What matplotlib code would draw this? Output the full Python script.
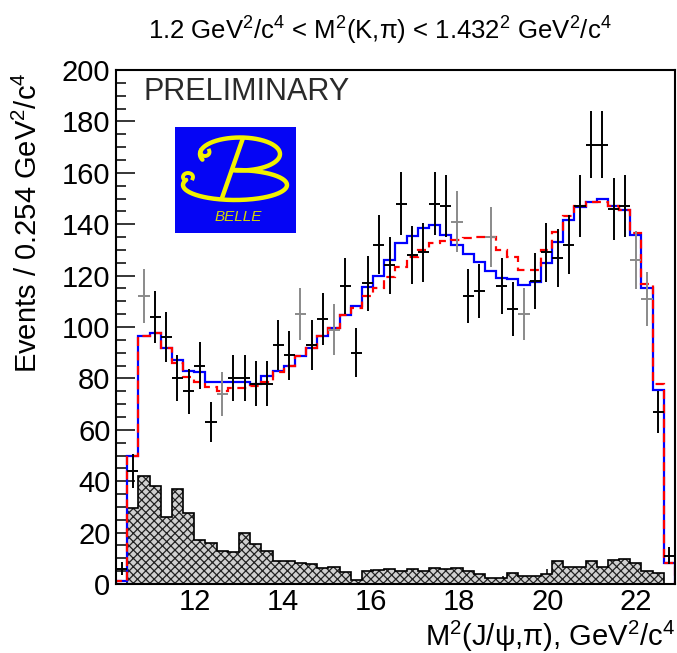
import numpy as np
import matplotlib
matplotlib.use('Agg')
import matplotlib.pyplot as plt
from matplotlib.ticker import MultipleLocator

plt.rcParams['font.family'] = ['Liberation Sans', 'DejaVu Sans']
plt.rcParams['mathtext.fontset'] = 'custom'
plt.rcParams['mathtext.rm'] = 'Liberation Sans'
plt.rcParams['mathtext.it'] = 'Liberation Sans:italic'
plt.rcParams['hatch.linewidth'] = 0.9

# binning: 50 bins of 0.254 GeV^2/c^4
x_lo = 10.2
bin_w = 0.254
n_bins = 50

# data (events per bin)
data = [6, 44, 112, 104, 96, 80, 75, 85, 63, 74,
        80, 80, 78, 78, 93, 89, 105, 93, 103, 99,
        116, 90, 117, 132, 124, 148, 128, 129, 148, 147,
        141, 112, 114, 135, 116, 107, 105, 118, 129, 127,
        132, 147, 171, 171, 146, 147, 126, 111, 67, 11]
# points drawn lighter in the original
gray_pts = [2, 9, 16, 19, 30, 33, 36, 46, 47]

# fit, solid blue
fit_blue = [1, 50, 96.5, 97.5, 92, 87, 83, 82.5, 78.7, 78.7,
            78.7, 78.7, 78, 81, 83, 85, 88.8, 92, 96.5, 99.5,
            104.7, 108, 115.7, 120, 126, 132.6, 135.4, 138.7, 139.7, 135.8,
            131.9, 128.4, 125.2, 121.9, 119, 118.8, 116.3, 117.6, 124.8, 133.2,
            141.6, 146.6, 148.8, 149.7, 147, 145.5, 135.8, 115, 75.5, 8]
# fit, dashed red
fit_red = [1, 50, 96.5, 97.5, 92, 86, 80.6, 78.7, 76.8, 75.2,
           76.1, 76.1, 77, 78.7, 82.5, 85, 88.8, 92, 96.5, 99.5,
           104.5, 107.5, 112, 115.3, 119.6, 123.5, 127.4, 130, 132.8, 133.6,
           134, 134.6, 135, 135.2, 130, 127.4, 122, 122, 130, 137,
           143, 147, 148.8, 148.8, 147, 145.5, 136.4, 116.6, 78, 8]
# background (hatched)
bkg = [0, 29.6, 42, 38, 26, 37, 27.6, 17, 16, 13,
       12.5, 20, 15.6, 13, 9, 9, 8, 7.8, 6.2, 6.6,
       4.7, 1.5, 5, 5.5, 5.8, 5, 5.8, 5, 6.4, 5.8,
       6.4, 5, 3.9, 2.5, 2.3, 4.3, 3.3, 3.3, 3.9, 9,
       6.7, 6.7, 9, 6.7, 9.3, 9.8, 8, 5, 4.3, 0]

edges = x_lo + bin_w*np.arange(n_bins+1)
centers = 0.5*(edges[:-1]+edges[1:])
data = np.array(data, dtype=float)

fig = plt.figure(figsize=(6.77, 6.53), dpi=100)
ax = fig.add_axes([116/677, 1-584/653, 559/677, 514/653])
ax.set_axisbelow(True)

ax.stairs(bkg, edges, fill=True, facecolor='#d0d0d0', edgecolor='#222222',
          hatch='xxxx', linewidth=0, zorder=1)
ax.stairs(bkg, edges, color='black', linewidth=1.2, baseline=None, zorder=1.5)

ax.stairs(fit_blue, edges, color='#0000ff', linewidth=1.6, baseline=0, zorder=2)
ax.stairs(fit_red, edges, color='#ff0000', linewidth=1.6, baseline=0,
          linestyle=(0, (4, 2.5)), zorder=2.1)

blk = [i for i in range(n_bins) if i not in gray_pts]
ax.errorbar(centers[blk], data[blk], yerr=np.sqrt(data[blk]), xerr=bin_w/2,
            fmt='none', ecolor='black', elinewidth=1.4, capsize=0, zorder=3)
ax.errorbar(centers[gray_pts], data[gray_pts], yerr=np.sqrt(data[gray_pts]),
            xerr=bin_w/2, fmt='none', ecolor='#8a8a8a', elinewidth=1.4,
            capsize=0, zorder=3)

ax.set_xlim(x_lo, edges[-1])
ax.set_ylim(0, 200)
ax.xaxis.set_major_locator(MultipleLocator(2))
ax.xaxis.set_minor_locator(MultipleLocator(0.5))
ax.yaxis.set_major_locator(MultipleLocator(20))
ax.yaxis.set_minor_locator(MultipleLocator(5))
ax.tick_params(axis='y', which='major', direction='in', length=14, width=1.1,
               labelsize=21, pad=4)
ax.tick_params(axis='y', which='minor', direction='in', length=7, width=1.1)
ax.tick_params(axis='x', which='major', direction='in', length=11, width=1.1,
               labelsize=21, pad=3)
ax.tick_params(axis='x', which='minor', direction='in', length=5.5, width=1.1)
for s in ax.spines.values():
    s.set_linewidth(1.5)

ax.set_xlabel('M$^{2}$(J/ψ,π), GeV$^{2}$/c$^{4}$', fontsize=21, loc='right')
ax.xaxis.set_label_coords(1.0, -0.068)
ax.set_ylabel('Events / 0.254 GeV$^{2}$/c$^{4}$', fontsize=21, loc='top')
ax.yaxis.set_label_coords(-0.13, 0.995)

fig.text(380/677, 1-31/653, '1.2 GeV$^{2}$/c$^{4}$ < M$^{2}$(K,π) < 1.432$^{2}$ GeV$^{2}$/c$^{4}$',
         fontsize=18.5, ha='center', va='center')

fig.text(143/677, 1-92/653, 'PRELIMINARY', fontsize=22, color='#2a2a2a',
         ha='left', va='center')

# Belle logo
lg = fig.add_axes([175/677, 1-233/653, 121/677, 106/653])
lg.set_facecolor('#0505f5')
lg.set_xlim(0, 121)
lg.set_ylim(106, 0)
lg.set_xticks([])
lg.set_yticks([])
for s in lg.spines.values():
    s.set_visible(False)
yel = '#f2f200'
t = np.radians(np.linspace(200, -100, 200))
lg.plot(65 + 40*np.cos(t), 27 - 16.5*np.sin(t), color=yel, lw=3.2,
        solid_capstyle='round')
t = np.radians(np.linspace(90, -200, 200))
lg.plot(60 + 52*np.cos(t), 58 - 15*np.sin(t), color=yel, lw=3.2,
        solid_capstyle='round')
t = np.radians(np.linspace(-20, 200, 60))
lg.plot(13 + 5*np.cos(t), 50 - 4*np.sin(t), color=yel, lw=2.8)
t = np.radians(np.linspace(160, 380, 60))
lg.plot(30 + 4.5*np.cos(t), 25 - 4*np.sin(t), color=yel, lw=2.8)
lg.plot([68, 47], [11, 71], color=yel, lw=3.2, solid_capstyle='round')
lg.text(63, 90, 'BELLE', color='#d6d600', fontsize=11, style='italic',
        ha='center', va='center')

fig.savefig('out.png', dpi=100)
